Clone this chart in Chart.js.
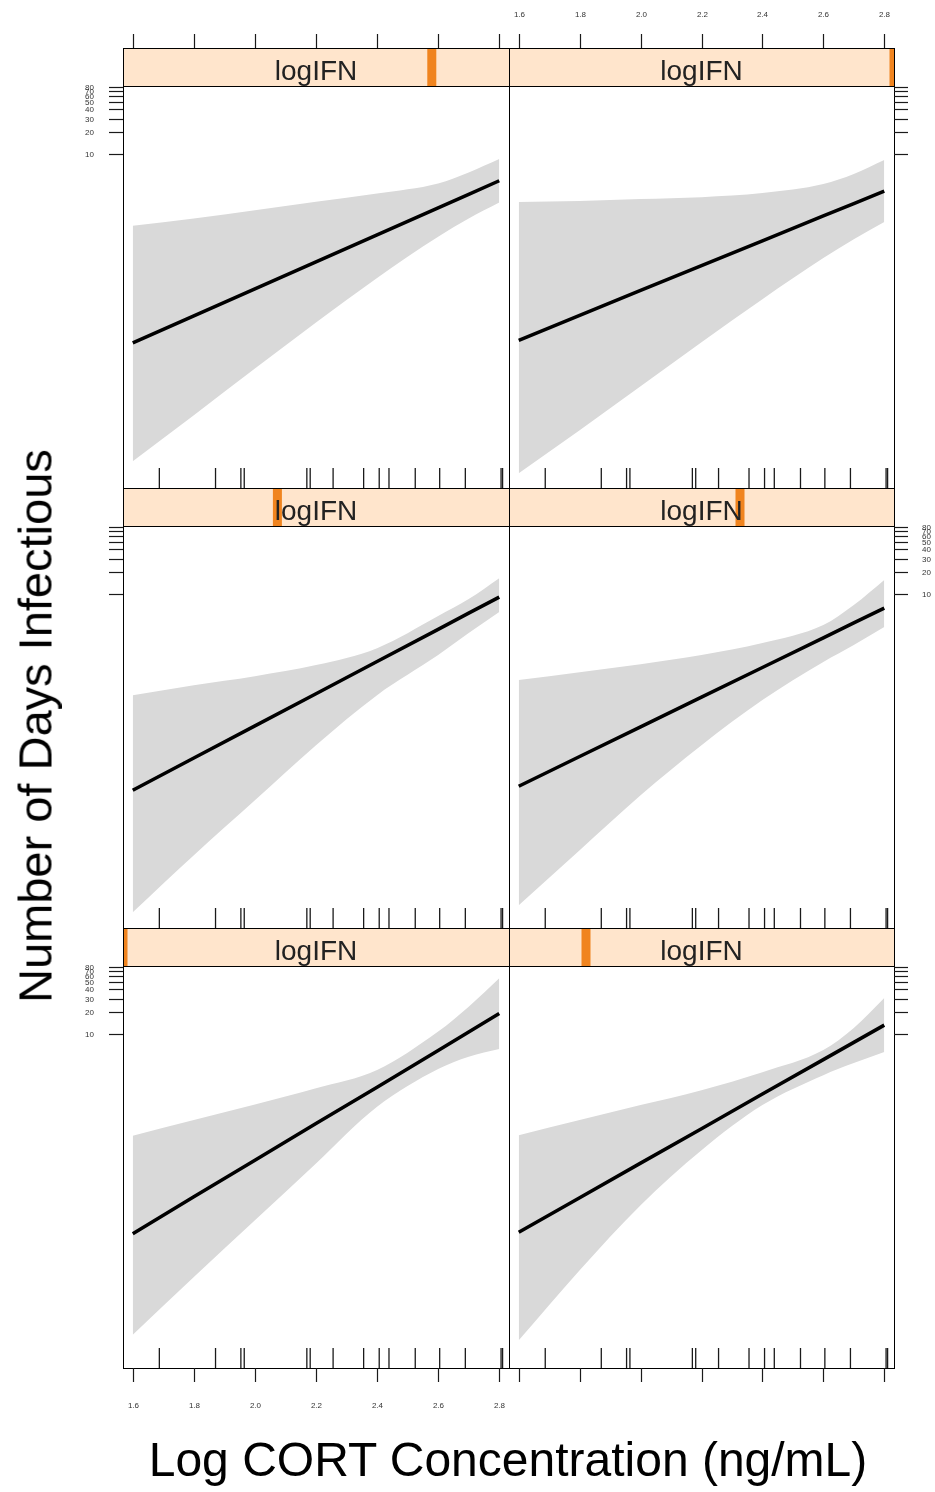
<!DOCTYPE html>
<html>
<head>
<meta charset="utf-8">
<title>Days infectious by CORT</title>
<script src="https://cdn.jsdelivr.net/npm/chart.js@4.4.0/dist/chart.umd.min.js"></script>
<style>
  body { margin: 0; background: #fff; }
  #wrap { position: relative; width: 935px; height: 1492px; overflow: hidden; font-family: "Liberation Sans", Arial, sans-serif; color: #000; }
  #wrap canvas { position: absolute; left: 0; top: 0; }
  .ytitle { position: absolute; left: 35px; top: 726px; font-size: 47px; line-height: 1; white-space: nowrap; transform: translate(-50%, -50%) rotate(-90deg); }
  .xtitle { position: absolute; left: 508px; top: 1436px; font-size: 48px; line-height: 1; white-space: nowrap; transform: translateX(-50%); }
</style>
</head>
<body>
<div id="wrap">
  <div class="ytitle">Number of Days Infectious</div>
  <div class="xtitle">Log CORT Concentration (ng/mL)</div>
</div>
<script>
// CORT values the effect curves are evaluated at
const cort = [1.6, 1.8, 2.0, 2.2, 2.4, 2.6, 2.7, 2.8];

// observed CORT values, drawn as a rug in every panel
const rugCort = [1.687, 1.871, 1.954, 1.965, 2.170, 2.181, 2.256, 2.356, 2.407, 2.439, 2.525, 2.605, 2.689, 2.806, 2.811];

// logIFN level of each panel as a share of its range (lattice order: bottom-left first)
const ifnLevels = [0, 0.2, 0.4, 0.6, 0.8, 1.0];

// fitted number of days infectious, one row per panel
const fitDays = [
  [0.0202, 0.0634, 0.198, 0.621, 1.92, 6.01, 10.7, 19.0],
  [0.0211, 0.0618, 0.181, 0.528, 1.55, 4.52, 7.73, 13.2],
  [0.0224, 0.0611, 0.166, 0.452, 1.23, 3.34, 5.53, 9.10],
  [0.0254, 0.0641, 0.161, 0.406, 1.02, 2.56, 4.08, 6.47],
  [0.0282, 0.0653, 0.151, 0.351, 0.813, 1.88, 2.86, 4.36],
  [0.0306, 0.0664, 0.144, 0.311, 0.673, 1.46, 2.15, 3.16]
];

// confidence band
const upperDays = [
  [0.423, 0.689, 1.12, 1.85, 3.27, 10.8, 23.4, 56.5],
  [0.432, 0.689, 1.10, 1.75, 3.06, 6.08, 12.1, 30.6],
  [0.432, 0.589, 0.780, 1.10, 1.86, 5.05, 8.55, 16.4],
  [0.689, 0.883, 1.13, 1.50, 2.18, 3.81, 7.10, 15.5],
  [1.075, 1.35, 1.75, 2.27, 2.94, 4.01, 5.65, 8.56],
  [2.25, 2.32, 2.47, 2.62, 2.97, 3.93, 5.37, 8.30]
];
const lowerDays = [
  [0.000873, 0.00526, 0.0306, 0.179, 1.04, 3.37, 4.94, 6.27],
  [0.000733, 0.00647, 0.0489, 0.270, 1.10, 2.79, 4.06, 5.71],
  [0.000505, 0.00297, 0.0164, 0.091, 0.432, 1.50, 2.97, 5.71],
  [0.000627, 0.00348, 0.0192, 0.091, 0.370, 1.21, 2.05, 3.58],
  [0.00071, 0.00297, 0.0127, 0.0531, 0.213, 0.764, 1.35, 2.22],
  [0.000489, 0.00186, 0.00733, 0.0288, 0.110, 0.394, 0.710, 1.21]
];

const xTicks = [1.6, 1.8, 2.0, 2.2, 2.4, 2.6, 2.8];
const yTicks = [10, 20, 30, 40, 50, 60, 70, 80];

// axis ranges
const xMin = 1.568, xMax = 2.832;
const yMin = 0.00031, yMax = 83;

// page geometry of the 2 x 3 lattice
const W = 935, H = 1492;
const colEdges = [123, 509, 894];
const rowTops = [86, 526, 966];
const panelH = 402;
const stripH = 38;

const font = '"Liberation Sans", Arial, sans-serif';

// strip, frame, rug and outer axes of one panel
const latticePanel = {
  id: 'latticePanel',
  afterDatasetsDraw(chart, args, opts) {
    const { ctx, chartArea: a, scales: { x, y } } = chart;
    const w = a.right - a.left;
    const sTop = a.top - stripH;
    ctx.save();

    // rug
    ctx.strokeStyle = '#1a1a1a';
    ctx.lineWidth = 1.3;
    rugCort.forEach(v => {
      const px = x.getPixelForValue(v);
      ctx.beginPath();
      ctx.moveTo(px, a.bottom - 20);
      ctx.lineTo(px, a.bottom);
      ctx.stroke();
    });

    // strip with the logIFN level marker
    ctx.fillStyle = '#ffe5cc';
    ctx.fillRect(a.left, sTop, w, stripH);
    ctx.save();
    ctx.beginPath();
    ctx.rect(a.left, sTop, w, stripH);
    ctx.clip();
    ctx.fillStyle = '#f0841f';
    ctx.fillRect(a.left + opts.level * w - 4.5, sTop, 9, stripH);
    ctx.restore();
    ctx.fillStyle = '#222';
    ctx.font = '28px ' + font;
    ctx.textAlign = 'center';
    ctx.textBaseline = 'alphabetic';
    ctx.fillText('logIFN', (a.left + a.right) / 2, sTop + 32);

    // frames
    ctx.strokeStyle = '#000';
    ctx.lineWidth = 1;
    ctx.strokeRect(a.left + 0.5, sTop + 0.5, w, stripH);
    ctx.strokeRect(a.left + 0.5, a.top + 0.5, w, a.bottom - a.top);

    // outer axes
    ctx.strokeStyle = '#1a1a1a';
    ctx.lineWidth = 1.2;
    ctx.fillStyle = '#333';
    ctx.font = '8px ' + font;
    ctx.textBaseline = 'middle';

    const left = opts.col === 0;
    const yLabels = left ? opts.row !== 1 : opts.row === 1;
    ctx.textAlign = left ? 'right' : 'left';
    yTicks.forEach(v => {
      const py = Math.round(y.getPixelForValue(v)) + 0.5;
      const x0 = left ? a.left - 14 : a.right;
      ctx.beginPath();
      ctx.moveTo(x0, py);
      ctx.lineTo(x0 + 14, py);
      ctx.stroke();
      if (yLabels) ctx.fillText(String(v), left ? a.left - 29 : a.right + 28, py);
    });

    ctx.textAlign = 'center';
    xTicks.forEach(v => {
      const px = Math.round(x.getPixelForValue(v)) + 0.5;
      if (opts.row === 0) {
        ctx.beginPath();
        ctx.moveTo(px, sTop - 14);
        ctx.lineTo(px, sTop);
        ctx.stroke();
        if (!left) ctx.fillText(v.toFixed(1), px, sTop - 33);
      }
      if (opts.row === 2) {
        ctx.beginPath();
        ctx.moveTo(px, a.bottom);
        ctx.lineTo(px, a.bottom + 14);
        ctx.stroke();
        if (left) ctx.fillText(v.toFixed(1), px, a.bottom + 38);
      }
    });
    ctx.restore();
  }
};

const wrap = document.getElementById('wrap');
const charts = [];

ifnLevels.forEach((level, i) => {
  const col = i % 2;
  const row = 2 - Math.floor(i / 2);
  const cv = document.createElement('canvas');
  cv.width = W;
  cv.height = H;
  wrap.insertBefore(cv, wrap.firstChild);

  const pts = arr => cort.map((c, j) => ({ x: c, y: arr[j] }));

  charts.push(new Chart(cv, {
    type: 'line',
    data: {
      datasets: [
        {
          label: 'fit',
          data: pts(fitDays[i]),
          borderColor: '#000',
          borderWidth: 3.5,
          pointRadius: 0,
          tension: 0,
          fill: false
        },
        {
          label: 'upper',
          data: pts(upperDays[i]),
          borderColor: 'rgba(0,0,0,0)',
          borderWidth: 0,
          pointRadius: 0,
          cubicInterpolationMode: 'monotone',
          backgroundColor: '#d9d9d9',
          fill: '+1'
        },
        {
          label: 'lower',
          data: pts(lowerDays[i]),
          borderColor: 'rgba(0,0,0,0)',
          borderWidth: 0,
          pointRadius: 0,
          cubicInterpolationMode: 'monotone',
          fill: false
        }
      ]
    },
    options: {
      responsive: false,
      animation: false,
      devicePixelRatio: 1,
      events: [],
      layout: {
        padding: {
          left: colEdges[col],
          right: W - colEdges[col + 1],
          top: rowTops[row],
          bottom: H - rowTops[row] - panelH
        }
      },
      scales: {
        x: { type: 'linear', display: false, min: xMin, max: xMax, bounds: 'data' },
        y: { type: 'logarithmic', display: false, min: yMin, max: yMax, bounds: 'data' }
      },
      plugins: {
        legend: { display: false },
        tooltip: { enabled: false },
        latticePanel: { level, col, row }
      }
    },
    plugins: [latticePanel]
  }));
});
</script>
</body>
</html>
